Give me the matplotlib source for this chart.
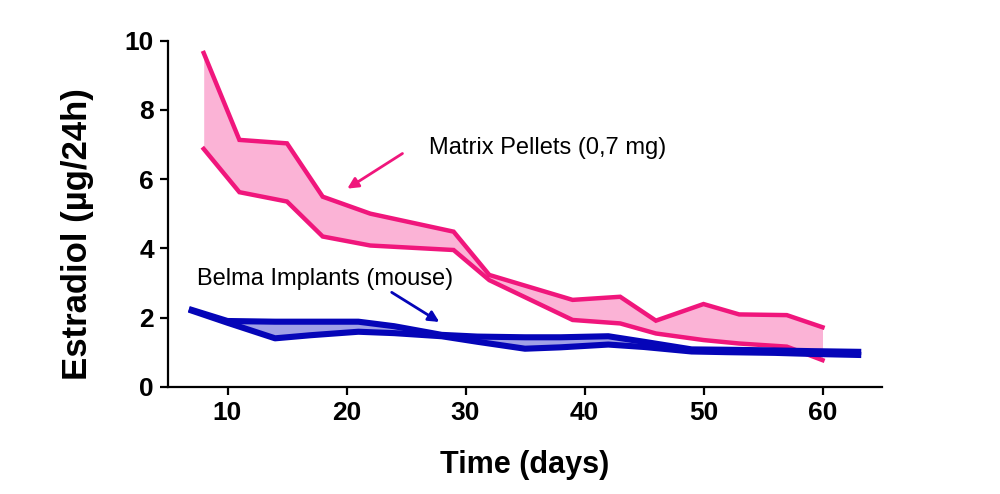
import matplotlib
matplotlib.use("Agg")
import matplotlib.pyplot as plt

plt.rcParams['font.family'] = ['Liberation Sans', 'DejaVu Sans']

# Matrix pellets (pink band)
pink_days = [8, 11, 15, 18, 22, 29, 32, 39, 43, 46, 50, 53, 57, 60]
pink_upper = [9.64, 7.13, 7.03, 5.49, 5.0, 4.48, 3.23, 2.51, 2.6, 1.91, 2.39, 2.09, 2.07, 1.72]
pink_lower = [6.87, 5.62, 5.35, 4.34, 4.08, 3.95, 3.08, 1.93, 1.83, 1.54, 1.35, 1.25, 1.16, 0.77]

# Belma implants (blue band)
blue_days = [7, 10, 14, 17, 21, 24, 28, 31, 35, 38, 42, 45, 49, 52, 56, 59, 63]
blue_a = [2.22, 1.9, 1.88, 1.88, 1.88, 1.75, 1.5, 1.45, 1.43, 1.43, 1.46, 1.3, 1.08, 1.07, 1.05, 1.03, 1.01]
blue_b = [2.2, 1.85, 1.40, 1.49, 1.59, 1.55, 1.46, 1.3, 1.1, 1.14, 1.22, 1.15, 1.02, 1.0, 0.98, 0.95, 0.92]

x_ticks = [10, 20, 30, 40, 50, 60]
y_ticks = [0, 2, 4, 6, 8, 10]

pink_line = '#F0167C'
pink_fill = '#FBB3D6'
blue_line = '#0505B8'
blue_fill = '#A0A0E6'

fig = plt.figure(figsize=(10, 4.94), dpi=100)
ax = fig.add_axes([0.168, 0.217, 0.714, 0.701])

ax.fill_between(pink_days, pink_lower, pink_upper, color=pink_fill, lw=0)
ax.plot(pink_days, pink_upper, color=pink_line, lw=3.2, solid_joinstyle='miter')
ax.plot(pink_days, pink_lower, color=pink_line, lw=3.2, solid_joinstyle='miter')

ax.fill_between(blue_days, blue_b, blue_a, color=blue_fill, lw=0)
ax.plot(blue_days, blue_a, color=blue_line, lw=4.4)
ax.plot(blue_days, blue_b, color=blue_line, lw=4.4)

ax.set_xlim(5, 65)
ax.set_ylim(0, 10)
ax.set_xticks(x_ticks)
ax.set_yticks(y_ticks)
for s in ['top', 'right']:
    ax.spines[s].set_visible(False)
for s in ['left', 'bottom']:
    ax.spines[s].set_linewidth(1.6)
    ax.spines[s].set_color('black')
ax.tick_params(width=1.6, length=6, labelsize=19, pad=4)
for lab in ax.get_xticklabels() + ax.get_yticklabels():
    lab.set_fontweight('bold')

ax.set_xlabel('Time (days)', fontsize=22, fontweight='bold', labelpad=18)
ax.set_ylabel('Estradiol (µg/24h)', fontsize=25, fontweight='bold', va='center')
ax.yaxis.set_label_coords(-0.127, 0.44)

ax.text(26.9, 6.73, 'Matrix Pellets (0,7 mg)', fontsize=17, va='baseline', ha='left')
ax.annotate('', xy=(19.87, 5.68), xytext=(24.9, 6.78),
            arrowprops=dict(arrowstyle='-|>', color=pink_line, lw=2, mutation_scale=16))
ax.text(7.4, 2.94, 'Belma Implants (mouse)', fontsize=17, va='baseline', ha='left')
ax.annotate('', xy=(28.0, 1.83), xytext=(23.6, 2.77),
            arrowprops=dict(arrowstyle='-|>', color=blue_line, lw=2, mutation_scale=16))

fig.savefig('out.png', dpi=100)
